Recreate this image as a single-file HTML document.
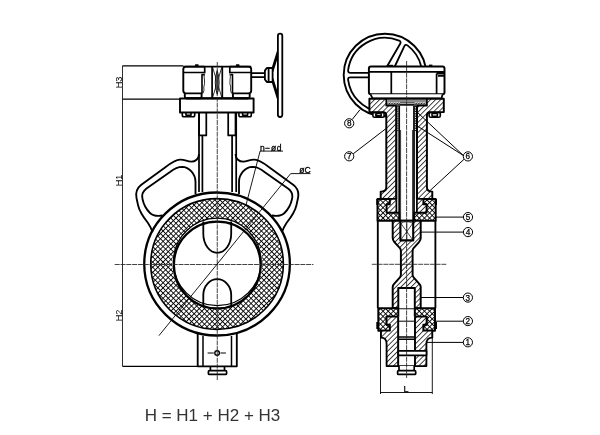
<!DOCTYPE html>
<html><head><meta charset="utf-8">
<style>
html,body{margin:0;padding:0;background:#fff;}
body{width:600px;height:435px;overflow:hidden;}
svg{display:block;will-change:transform;}
text{font-family:"Liberation Sans",sans-serif;}
</style></head><body>
<svg width="600" height="435" viewBox="0 0 600 435">
<defs>
<pattern id="xh" width="3.66" height="3.66" patternUnits="userSpaceOnUse" patternTransform="rotate(45)">
<rect width="3.66" height="3.66" fill="#fff"/>
<line x1="0" y1="0" x2="0" y2="3.66" stroke="#000" stroke-width="1.75"/>
<line x1="0" y1="0" x2="3.66" y2="0" stroke="#000" stroke-width="1.75"/>
</pattern>
<pattern id="dh" width="3.6" height="3.6" patternUnits="userSpaceOnUse" patternTransform="rotate(45)">
<rect width="3.6" height="3.6" fill="#fff"/>
<line x1="0" y1="0" x2="0" y2="3.6" stroke="#000" stroke-width="1.45"/>
</pattern>
</defs>

<!-- ============ LEFT VIEW ============ -->
<g id="left" fill="none" stroke="#000" stroke-linejoin="round">
  <!-- lugs (ears) -->
  <path id="lugL" stroke-width="1.84" d="M199,154 C199,159 195,161.7 191.4,161.7 C187,161.7 185,159.5 180,159.7 C175,160 171,163 165,167.4 L141,185 C136.5,188.5 135.5,193 136.5,198 L138,205 C139.5,212 144,218 148,223 C150,226 151.5,229 152.5,232"/>
  <path id="holeL" stroke-width="1.84" d="M195.5,194 L195.5,182 C195.5,174 189,167 182.2,166.8 C178,166.8 175,168 170,172 L146.5,188.5 C142.5,191.5 141.5,195 142.5,199 C143.5,204 146,209 150,213 C152.5,215.5 156,216.5 162.6,215.5"/>
  <use href="#lugL" transform="translate(434.5,0) scale(-1,1)"/>
  <use href="#holeL" transform="translate(434.5,0) scale(-1,1)"/>

  <!-- neck -->
  <path stroke-width="1.72" d="M199,113 V192 M202.4,135 V192 M236.2,113 V192 M232.1,135 V192"/>
  <path stroke-width="1.72" d="M199,113 V135.4 H206.3 V113 M235.5,113 V135.4 H228.2 V113"/>

  <!-- bottom boss -->
  <path stroke-width="1.84" d="M197.7,334 V366.3 H236.8 V334"/>
  <path stroke-width="1.49" d="M203,336 V366.3 M231.5,336 V366.3"/>
  <path stroke-width="1.7" d="M210.4,366.3 V370.7 H224.5 V366.3 M209.4,370.7 H225.6 Q226.6,370.7 226.6,371.7 V373.4 Q226.6,374.4 225.6,374.4 H209.4 Q208.4,374.4 208.4,373.4 V371.7 Q208.4,370.7 209.4,370.7 Z"/>
  <circle cx="217.1" cy="353" r="2.3" stroke-width="1.4"/>
  <path stroke-width="1" d="M207.6,353 H213.8 M220.4,353 H225.9"/>

  <!-- ring -->
  <path fill="url(#xh)" fill-rule="evenodd" stroke="none" d="M150.8,264 A66.3,65.4 0 1,0 283.4,264 A66.3,65.4 0 1,0 150.8,264 Z M172.25,263.6 A45,45 0 1,0 262.25,263.6 A45,45 0 1,0 172.25,263.6 Z"/>
  <ellipse cx="217.05" cy="264" rx="72.8" ry="71.5" stroke-width="2.3"/>
  <ellipse cx="217.05" cy="264" rx="66.3" ry="65.4" stroke-width="1.6"/>
  <circle cx="217.25" cy="261.9" r="43.8" stroke-width="1.3"/>
  <circle cx="217.25" cy="265.0" r="43.4" stroke-width="2.3"/>

  <!-- disc shapes -->
  <path stroke-width="1.8" d="M203.3,221.5 V233.8 A13.95,19 0 0,0 231.2,233.8 V221.5"/>
  <path stroke-width="1.8" d="M203.3,306.5 V295 A13.95,15.8 0 0,1 231.2,295 V306.5"/>

  <!-- flange & gearbox -->
  <rect x="180" y="98.5" width="73.6" height="14" stroke-width="1.9"/>
  <path stroke-width="1.6" d="M182.3,112.5 V115 Q182.3,116.8 184,116.8 H193 Q194.7,116.8 194.7,115 V112.5 M186,112.5 V115.2 H191 V112.5"/>
  <path stroke-width="1.6" d="M238.9,112.5 V115 Q238.9,116.8 240.6,116.8 H249.6 Q251.3,116.8 251.3,115 V112.5 M242.6,112.5 V115.2 H247.6 V112.5"/>
  <g id="gbL">
  <path stroke-width="1.9" d="M184.8,93.4 V96.6 Q184.8,98.2 186.4,98.2 H200 Q201.6,98.2 201.6,96.6 V93.4"/>
  <path stroke-width="1.9" d="M204.7,66.6 H186 Q183.3,66.6 183.3,69.3 V90.6 Q183.3,93.4 186,93.4 H202.3"/>
  <path stroke-width="1.7" d="M183.3,72.5 H204.7 V66.6"/>
  <path stroke-width="1.6" d="M202,93.4 V74.6 H204.2"/>
  <path stroke-width="0.8" d="M204.7,73.5 Q203.6,77 204.5,80 Q205,84 203.8,87 Q204.6,90 203,93.4"/>
  <rect x="195" y="64.2" width="3.6" height="2" rx="0.6" fill="#000" stroke="none"/>
  </g>
  <use href="#gbL" transform="translate(434.5,0) scale(-1,1)"/>
  <path stroke-width="1.9" d="M183.3,66.6 H251.2 M186.4,98.2 H248.1"/>
  <path stroke-width="1.7" d="M212.1,66.6 V98.2 M222.3,66.6 V98.2"/>
  <path stroke-width="0.8" d="M212.6,67.3 L221.8,97.5 M221.8,67.3 L212.6,97.5"/>
  <path stroke-width="0.9" fill="#999" d="M217.2,70.5 Q213.3,82.4 217.2,94.3 Q221.1,82.4 217.2,70.5 Z"/><path stroke-width="0.8" stroke="#333" d="M217.2,75.5 Q215.6,82.4 217.2,89.3 Q218.8,82.4 217.2,75.5"/>

  <!-- shaft & handwheel -->
  <path stroke-width="1.6" d="M251.9,73.1 H265 M251.9,77.1 H265"/>
  <path stroke-width="1.8" d="M264.9,70.6 L266.8,68 H272.6 V82 H266.8 L264.9,79.4 Z M268.6,68 V82"/>
  <path stroke-width="1.6" d="M272.4,68.2 L277.6,51.5 M272.6,71.5 L277.6,55.8 M272.4,81.8 L277.6,98.5 M272.6,78.5 L277.6,94.2"/>
  <rect x="277.9" y="33.6" width="4.4" height="83.4" rx="2.2" stroke-width="1.8"/>
</g>

<!-- centre lines & dims left -->
<g fill="none" stroke="#000">
  <path stroke-width="0.85" stroke="#222" stroke-dasharray="5,0.8" d="M114.7,264.5 H313.4"/>
  <path stroke-width="0.85" stroke="#222" stroke-dasharray="5,0.8" d="M217.25,62 V380"/>
  <path stroke-width="0.95" stroke="#222" d="M122.5,65.8 V366.3"/><path stroke-width="1.25" d="M122.5,65.8 H183.3 M122.5,99.2 H180 M122.5,366.3 H197.7"/>
  <path stroke-width="0.9" d="M158.9,335.7 L290.7,173.6 H310.5 M246,205 L260.1,151.1 H283"/>
</g>
<g font-size="9.2" fill="#000">
  <text transform="translate(121.7,88.3) rotate(-90)">H3</text>
  <text transform="translate(121.7,186.3) rotate(-90)">H1</text>
  <text transform="translate(121.7,321.3) rotate(-90)">H2</text>
  <text x="260.1" y="150.8" font-size="8.5" letter-spacing="0.55" stroke="#000" stroke-width="0.3">n−ød</text>
  <text x="299.3" y="173.2" font-size="8.6" stroke="#000" stroke-width="0.3">øC</text>
</g>
<text x="144.7" y="421.3" font-size="17" fill="#333">H = H1 + H2 + H3</text>

<!-- ============ RIGHT VIEW ============ -->
<g id="right" fill="none" stroke="#000" stroke-linejoin="round">
  <!-- handwheel -->
  <circle cx="385" cy="75" r="41.3" stroke-width="1.9"/>
  <path stroke-width="1.8" d="M386.40,67.50 L400.17,43.78 Q401.42,41.62 399.14,40.59 A37.20,37.20 0 0,0 348.10,70.31 Q347.87,72.80 350.37,72.80 L369,72.8 M394.30,67.50 L404.36,46.17 Q405.43,43.91 407.47,45.36 A37.20,37.20 0 0,1 421.22,66.50 M369,77.3 L350.37,77.30 Q347.87,77.30 348.11,79.79 A37.20,37.20 0 0,0 378.54,111.63"/>
  <!-- gearbox -->
  <rect x="368.9" y="66.5" width="75.6" height="27.8" rx="2" fill="#fff" stroke-width="1.95"/>
  <path stroke-width="1.72" d="M368.9,71.9 H444.5 M391.3,71.9 V94.3 M436.6,73.6 V94.3 M436.6,73.6 H444.5 M438,75.8 H444.5"/>
  <path stroke-width="1.72" fill="#fff" d="M370.6,94.3 L372.5,98.4 H441.5 L442.6,94.3"/>
  <rect x="388.4" y="64.8" width="4.6" height="1.8" fill="#000" stroke="none"/>
  <rect x="429" y="64.6" width="3.4" height="1.8" fill="#000" stroke="none"/>

  <!-- flange + neck hatched -->
  <path fill="url(#dh)" stroke-width="1.95" d="M369.4,98.8 H443.8 V112.1 H430 Q426.9,112.1 426.9,115.5 V187.2 Q426.9,191.6 432.3,191.6 V199 H416.9 V105.7 H396.4 V199 H380.7 V191.6 Q386.3,191.6 386.3,187.2 V115.5 Q386.3,112.1 383,112.1 H369.4 Z"/>
  <!-- recess packing -->
  <rect x="386.3" y="98.8" width="40.6" height="6.9" fill="#fff" stroke-width="1.72"/>
  <path stroke-width="0.9" d="M387.3,102.5 l1.3,1.9 M388.9,102.5 l1.3,1.9 M390.5,102.5 l1.3,1.9 M392.1,102.5 l1.3,1.9 M393.7,102.5 l1.3,1.9 M395.3,102.5 l1.3,1.9 M396.9,102.5 l1.3,1.9 M398.5,102.5 l1.3,1.9 M414.4,102.5 l1.3,1.9 M416.0,102.5 l1.3,1.9 M417.6,102.5 l1.3,1.9 M419.2,102.5 l1.3,1.9 M420.8,102.5 l1.3,1.9 M422.4,102.5 l1.3,1.9 M424.0,102.5 l1.3,1.9 M425.6,102.5 l1.3,1.9"/>
  <path stroke-width="0.9" d="M387.3,101 H426 M399.8,102.8 H414.2 M399.8,104.4 H414.2"/>
  <path stroke-width="1.5" d="M386.3,105.3 H426.9"/>
  <path fill="#fff" stroke-width="1.6" d="M372.9,112.6 V115.8 Q372.9,117.3 374.4,117.3 H382.6 Q384.1,117.3 384.1,115.8 V112.6 Z M376.2,113.4 H380.8 Q381.8,114.9 380.8,116.4 H376.2 Q375.2,114.9 376.2,113.4 Z"/>
  <path fill="#fff" stroke-width="1.6" d="M429.1,112.6 V115.8 Q429.1,117.3 430.6,117.3 H438.8 Q440.3,117.3 440.3,115.8 V112.6 Z M432.4,113.4 H437 Q438,114.9 437,116.4 H432.4 Q431.4,114.9 432.4,113.4 Z"/>
  <!-- stem -->
  <rect x="396.4" y="105.7" width="20.5" height="115" fill="#fff" stroke="none"/>
  <path stroke-width="1.95" d="M396.4,105.7 V199 M416.9,105.7 V199"/>
  <path stroke-width="1.72" d="M399.2,105.7 V220.7 M414.0,105.7 V220.7"/>
  <path stroke-width="0.8" d="M400.6,130 V220.7 M412.6,130 V220.7"/>
  <path stroke-width="1.0" stroke-dasharray="1.2,1.2" d="M397.9,106 V131 M415.4,106 V131"/>

  <!-- upper seat -->
  <path fill="url(#xh)" stroke-width="1.95" d="M377.5,199 H389.9 V204.3 H386.7 V212.6 H399.2 V220.7 H377.5 Z"/>
  <path fill="url(#xh)" stroke-width="1.95" d="M435.7,199 H423.3 V204.3 H426.5 V212.6 H414 V220.7 H435.7 Z"/>
  <path fill="url(#dh)" stroke-width="1.72" d="M389.9,199 H396.4 V212.6 H386.7 V204.3 H389.9 Z"/>
  <path fill="url(#dh)" stroke-width="1.72" d="M423.3,199 H416.9 V212.6 H426.5 V204.3 H423.3 Z"/>
  <!-- body lines -->
  <path stroke-width="1.84" d="M377.8,220.7 V308.3 M435.4,220.7 V308.3"/>

  <!-- disc -->
  <path fill="url(#dh)" stroke-width="1.95" d="M392.7,220.7 H420.7 V238 C420.7,240 420,241 419,242.2 L413.6,248.2 C412.9,249 412.6,249.8 412.6,251 V274.5 C412.6,275.7 412.9,276.5 413.6,277.3 L419.7,284.3 C420.4,285.1 420.7,285.8 420.7,287 V308.3 H392.7 V287 C392.7,285.8 393,285.1 393.7,284.3 L399.9,277.3 C400.6,276.5 400.9,275.7 400.9,274.5 V251 C400.9,249.8 400.6,249 399.9,248.2 L394.4,242.2 C393.4,241 392.7,240 392.7,238 Z"/>
  <path fill="#fff" stroke-width="2.1" d="M400.4,220.7 H413.2 V240.4 H400.4 Z"/>
  <path stroke-width="0.7" d="M400.4,223.5 Q406.8,219.8 413.2,223.5 M400.6,223 L413,240.2 M413,223 L400.6,240.2 M406.8,221 V240.2"/>
  <path fill="#fff" stroke-width="1.95" d="M398.3,308.3 V288 H414.8 V308.3"/>

  <!-- lower seat -->
  <path fill="url(#xh)" stroke-width="1.95" d="M378.3,308.3 H398.3 V316.6 H386.6 V324.7 H389.9 V330.7 H378.3 Z"/>
  <path fill="url(#xh)" stroke-width="1.95" d="M435,308.3 H414.8 V316.6 H426.6 V324.7 H423.3 V330.7 H435 Z"/>
  <rect x="376.3" y="322" width="2.2" height="7" fill="#000" stroke="none"/>
  <rect x="434.8" y="322" width="2.2" height="7" fill="#000" stroke="none"/>
  <rect x="376.3" y="199" width="2.2" height="6" fill="#000" stroke="none"/>
  <rect x="434.8" y="199" width="2.2" height="6" fill="#000" stroke="none"/>
  <!-- lower neck -->
  <path fill="url(#dh)" stroke-width="1.84" d="M398.3,316.6 H386.6 V324.7 H389.9 V330.7 H381 V337.6 Q386.6,337.6 386.6,344 V366.1 H398.3 Z"/>
  <path fill="url(#dh)" stroke-width="1.84" d="M414.8,316.6 H426.6 V324.7 H423.3 V330.7 H432.3 V337.6 Q426.4,337.6 426.4,344 V366.1 H414.8 Z"/>
  <!-- lower stem -->
  <path fill="#fff" stroke-width="1.72" d="M398.3,316.6 V366.1 H414.9 V316.6"/>
  <path stroke-width="1.5" d="M398.3,336.9 H414.9 M398.3,339.2 H414.9"/>
  <rect x="398.3" y="350.9" width="28.2" height="4.4" fill="#fff" stroke-width="1.72"/>
  <path stroke-width="1.7" fill="#fff" d="M399,366.1 V370.7 H414.2 V366.1 M398.6,370.7 H414.7 Q415.7,370.7 415.7,371.7 V373.4 Q415.7,374.4 414.7,374.4 H398.6 Q397.6,374.4 397.6,373.4 V371.7 Q397.6,370.7 398.6,370.7 Z"/>
  <!-- ext lines + L -->
  <path stroke-width="0.9" d="M380.5,331.5 V394 M432.3,331.5 V394 M380.5,392.5 H432.3"/>
</g>
<g fill="none" stroke="#000">
  <path stroke-width="0.85" stroke="#222" stroke-dasharray="5,0.8" d="M406.6,61 V378"/>
  <path stroke-width="0.85" stroke="#222" stroke-dasharray="5,0.8" d="M371.8,264.3 H446.3"/>
  <!-- leaders -->
  <path stroke-width="1" d="M352.1,119.6 L360,109.7 M353.2,153.8 L386.5,128.2 M463.2,155.4 L416.9,111.9 M463.2,155.4 L416.9,125.7 M464,159.3 L429.8,190.8 M435.7,217.1 H463.4 M420.6,232.1 H463.4 M420.6,297.5 H463.3 M398.6,321.2 H414.4 M435.6,321.2 H463.3 M426.2,342.4 H463.3"/>
  <g stroke-width="1">
  <circle cx="349.2" cy="123.3" r="4.6"/><circle cx="349.2" cy="156.3" r="4.6"/>
  <circle cx="467.9" cy="156.4" r="4.6"/><circle cx="468" cy="217.1" r="4.6"/>
  <circle cx="468" cy="232.1" r="4.6"/><circle cx="467.9" cy="297.6" r="4.6"/>
  <circle cx="467.9" cy="321.1" r="4.6"/><circle cx="467.9" cy="342.3" r="4.6"/>
  </g>
</g>
</g>
<g font-size="8.2" fill="#000" text-anchor="middle" stroke="#000" stroke-width="0.25">
  <text x="349.2" y="126.3">8</text><text x="349.2" y="159.3">7</text>
  <text x="467.9" y="159.4">6</text><text x="468" y="220.1">5</text>
  <text x="468" y="235.1">4</text><text x="467.9" y="300.6">3</text>
  <text x="467.9" y="324.1">2</text><text x="467.9" y="345.3">1</text>
  <text x="406" y="392.3" font-size="9">L</text>
</g>
</svg>
</body></html>
